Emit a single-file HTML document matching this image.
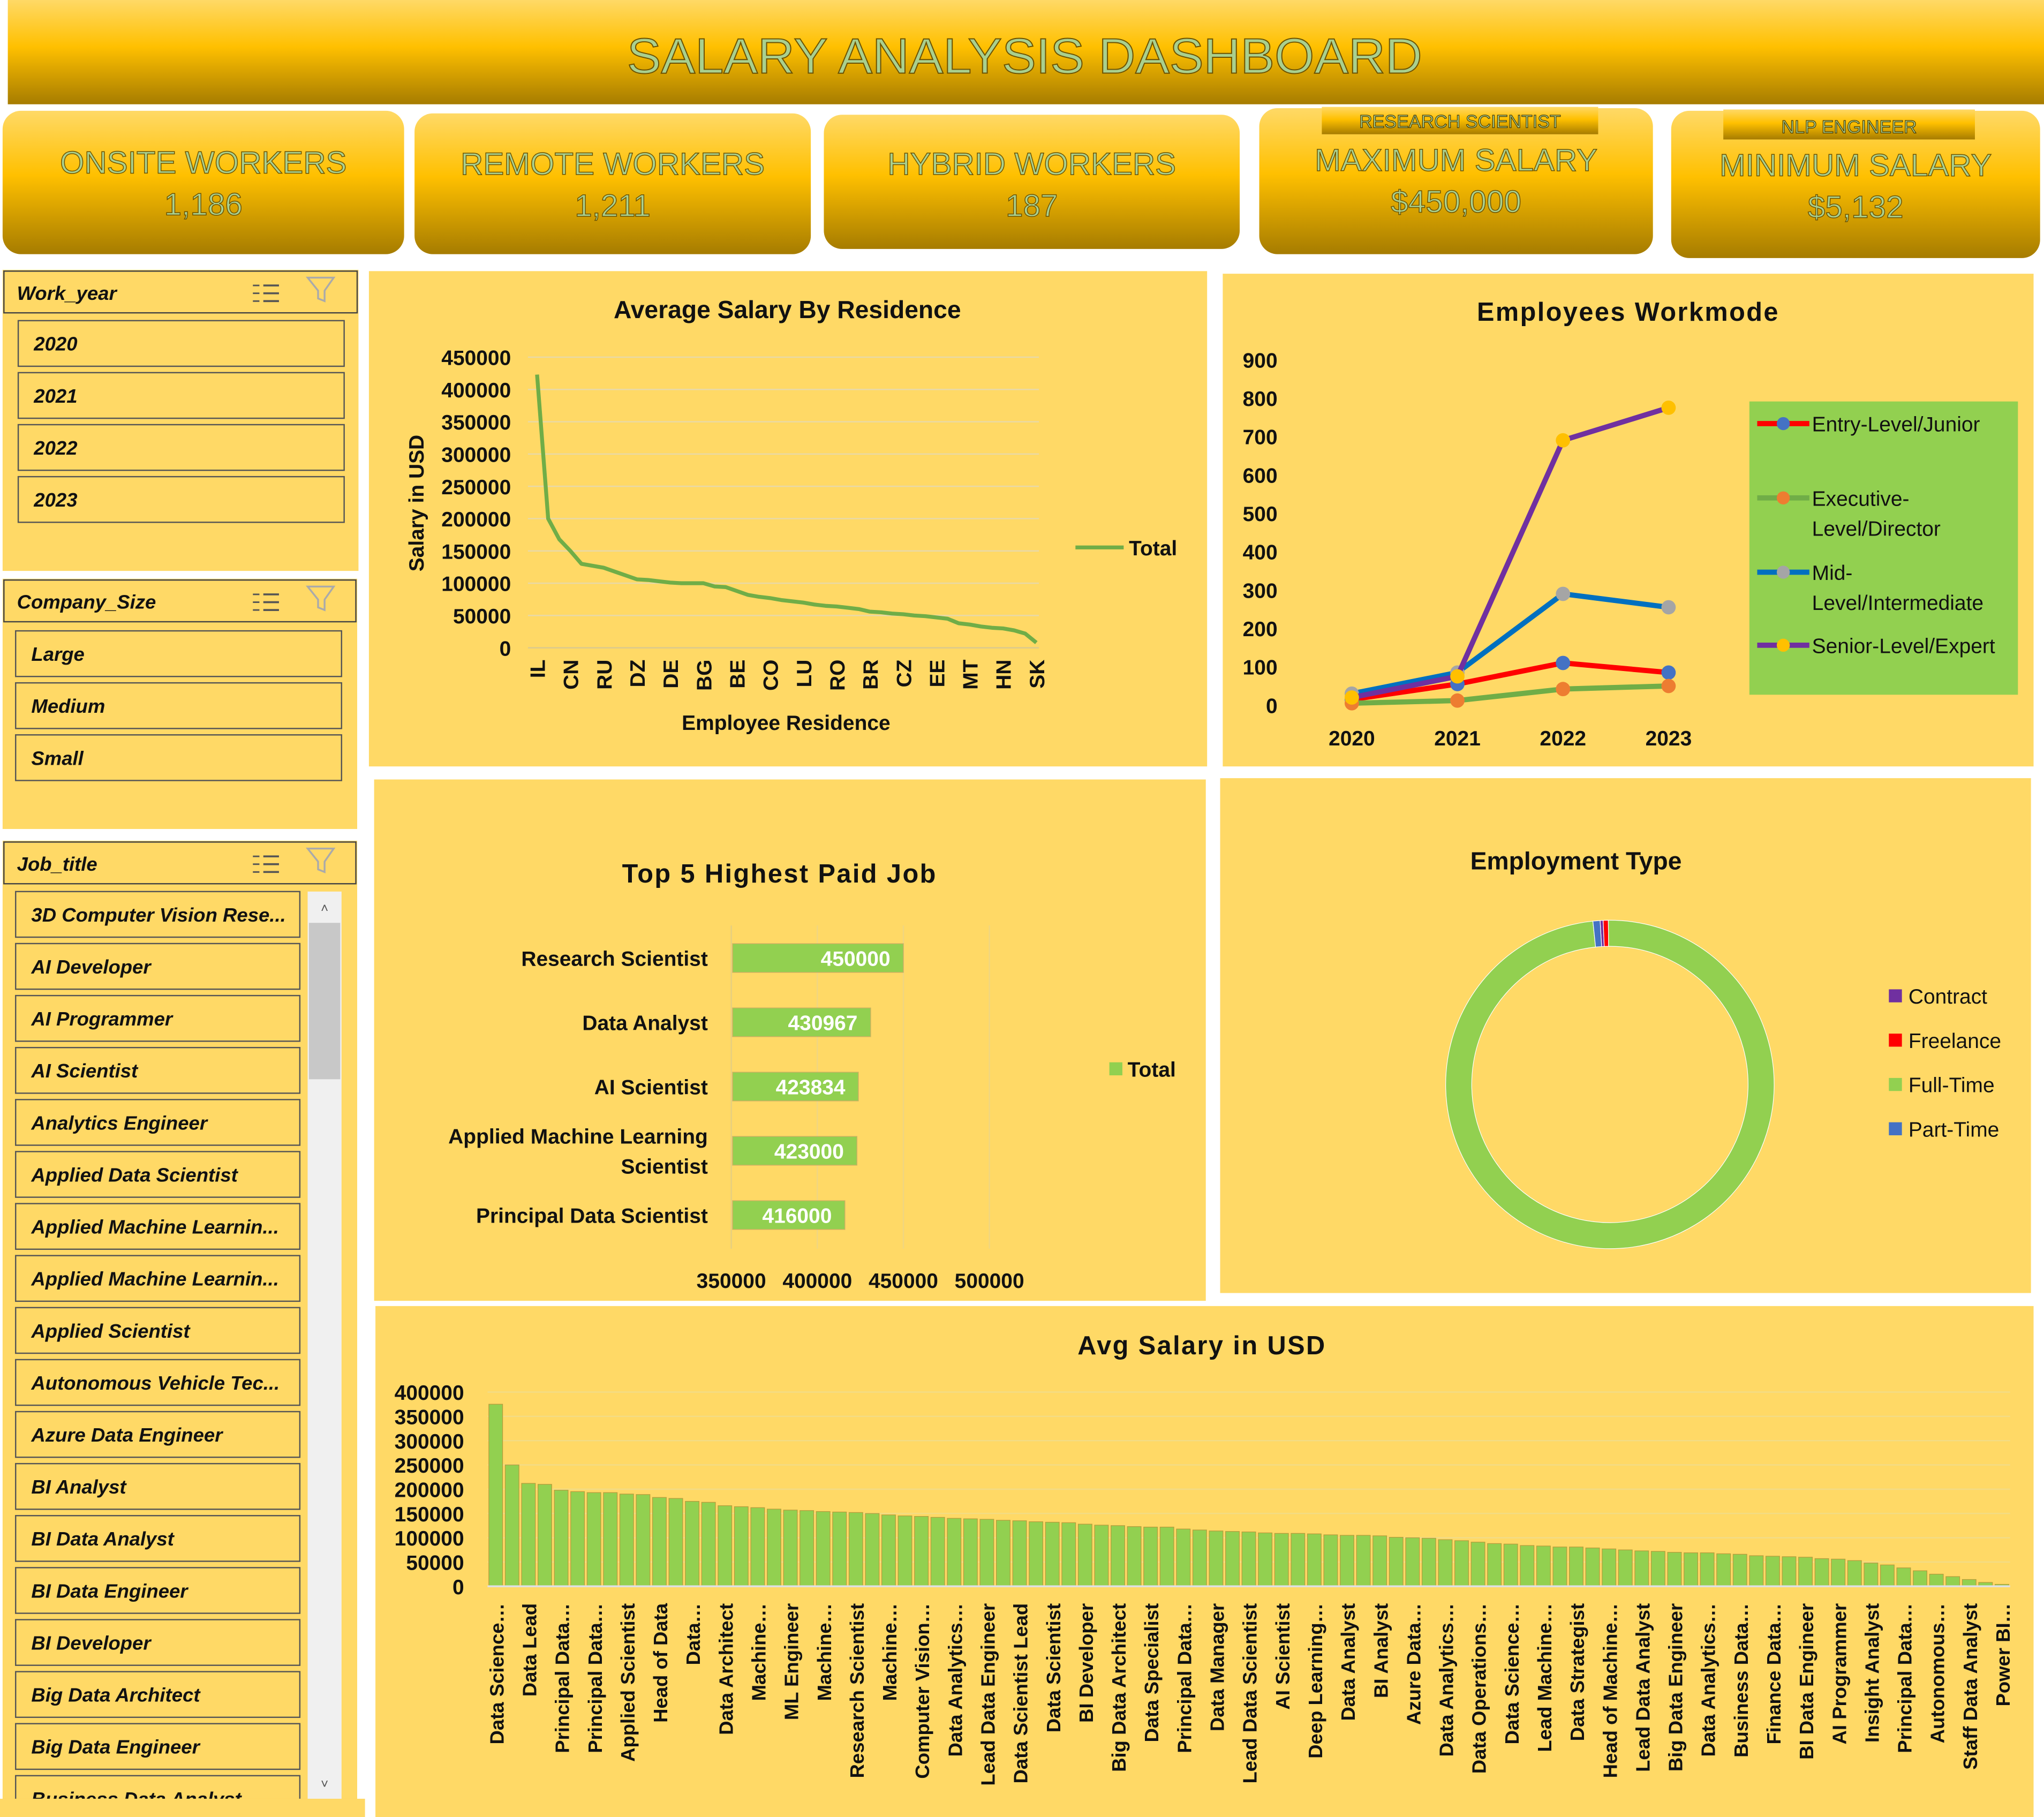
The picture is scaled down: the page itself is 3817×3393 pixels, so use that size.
<!DOCTYPE html>
<html><head><meta charset="utf-8"><style>
html,body{margin:0;padding:0;background:#fff;}
svg{display:block;}
text{font-family:"Liberation Sans",sans-serif;}
</style></head><body>
<svg id="root" width="3817" height="3393" viewBox="0 0 1568 1394" preserveAspectRatio="none" xmlns="http://www.w3.org/2000/svg">
<defs>
<linearGradient id="gold" x1="0" y1="0" x2="0" y2="1">
<stop offset="0" stop-color="#FFD966"/><stop offset="0.45" stop-color="#FFC000"/><stop offset="1" stop-color="#A67C00"/>
</linearGradient>
</defs>
<rect width="1568" height="1394" fill="#fff"/>
<g>
<rect x="6" y="0" width="1562" height="80" fill="url(#gold)"/>
<text x="786" y="56" text-anchor="middle" font-size="38" textLength="610" lengthAdjust="spacingAndGlyphs" fill="#A9D08E" stroke="#6b5200" stroke-width="0.8">SALARY ANALYSIS DASHBOARD</text>
</g>
<g id="kpis"></g>
<g id="slicers"></g>
<g id="charts"></g>
</svg>
<script>
const NS="http://www.w3.org/2000/svg";
function el(tag,attrs,parent,txt){const e=document.createElementNS(NS,tag);for(const k in attrs)e.setAttribute(k,attrs[k]);if(txt!==undefined)e.textContent=txt;parent.appendChild(e);return e;}
const root=document.getElementById('root');

/* ---------- KPI cards ---------- */
const kpiTitles=["ONSITE WORKERS","REMOTE WORKERS","HYBRID WORKERS","MAXIMUM SALARY","MINIMUM SALARY"];
const kpiValues=["1,186","1,211","187","$450,000","$5,132"];
const kpiBoxes=[[2,85,308,110,125,157],[318,87,304,108,126,158],[632,88,319,103,126,158],[966,83,302,112,123,155],[1282,85,283,113,127,159]];
const kg=document.getElementById('kpis');
kpiBoxes.forEach((b,i)=>{
  const g=el('g',{},kg);
  
  
  el('rect',{x:b[0],y:b[1],width:b[2],height:b[3],rx:14,fill:'url(#gold)'},g);
  el('text',{x:b[0]+b[2]/2,y:b[4]+8,'text-anchor':'middle','font-size':24,fill:'#A9D08E',stroke:'#6b5200','stroke-width':0.6},g,kpiTitles[i]);
  el('text',{x:b[0]+b[2]/2,y:b[5]+8,'text-anchor':'middle','font-size':24,fill:'#A9D08E',stroke:'#6b5200','stroke-width':0.6},g,kpiValues[i]);
});
[[1014,82,212,21,"RESEARCH SCIENTIST"],[1322,84,193,23,"NLP ENGINEER"]].forEach((t,i)=>{
  const g=el('g',{},kg);
  
  
  el('rect',{x:t[0],y:t[1],width:t[2],height:t[3],fill:'url(#gold)'},g);
  el('text',{x:t[0]+t[2]/2,y:t[1]+t[3]-5,'text-anchor':'middle','font-size':14,fill:'#A9D08E',stroke:'#4a3a00','stroke-width':0.5},g,t[4]);
});

/* ---------- Slicers ---------- */
const sg=document.getElementById('slicers');
function slicerIcons(g,x,y){
  for(let k=0;k<3;k++){el('line',{x1:x,y1:y+k*6,x2:x+5,y2:y+k*6,stroke:'#555','stroke-width':1.2},g);el('line',{x1:x+8,y1:y+k*6,x2:x+20,y2:y+k*6,stroke:'#555','stroke-width':1.5},g);}
  el('path',{d:`M${x+42} ${y-6} L${x+62} ${y-6} L${x+55} ${y+4} L${x+55} ${y+12} L${x+50} ${y+10} L${x+50} ${y+4} Z`,fill:'none',stroke:'#aaa','stroke-width':1.4},g);
}
function slicer(name,title,box,hdrY,items,ix,iw,iy){
  const g=el('g',{},sg);
  
  
  el('rect',{x:box[0],y:box[1],width:box[2],height:box[3],fill:'#FFD966'},g);
  el('rect',{x:box[0]+1,y:box[1]+1,width:box[2]-2,height:32,fill:'#FFD966',stroke:'#444','stroke-width':1},g);
  el('text',{x:box[0]+11,y:hdrY,'font-size':15,'font-weight':'bold','font-style':'italic',fill:'#111'},g,title);
  slicerIcons(g,box[0]+192,hdrY-11);
  items.forEach((it,i)=>{
    const r=el('rect',{x:ix,y:iy+i*39.9,width:iw,height:35,fill:'#FFD966',stroke:'#555','stroke-width':1},g);
    
    
    el('text',{x:ix+12,y:iy+i*39.9+23,'font-size':15,'font-weight':'bold','font-style':'italic',fill:'#111'},g,it);
  });
  return g;
}
slicer('work-year-slicer','Work_year',[2,207,273,231],230,["2020","2021","2022","2023"],14,250,246);
slicer('company-size-slicer','Company_Size',[2,444,272,192],467,["Large","Medium","Small"],12,250,484);
const jobItems=["3D Computer Vision Rese...","AI Developer","AI Programmer","AI Scientist","Analytics Engineer","Applied Data Scientist","Applied Machine Learnin...","Applied Machine Learnin...","Applied Scientist","Autonomous Vehicle Tec...","Azure Data Engineer","BI Analyst","BI Data Analyst","BI Data Engineer","BI Developer","Big Data Architect","Big Data Engineer","Business Data Analyst"];
const jg=slicer('job-title-slicer','Job_title',[2,645,272,749],668,jobItems,12,218,684);
el('rect',{x:0,y:1380,width:280,height:14,fill:'#FFD966'},jg);
el('rect',{x:2,y:1380,width:272,height:14,fill:'#FFD966'},jg);
const sb=el('rect',{x:236,y:684,width:26,height:696,fill:'#f0f0f0'},jg);


const th=el('rect',{x:237,y:708,width:24,height:120,fill:'#c8c8c8'},jg);


el('text',{x:249,y:700,'text-anchor':'middle','font-size':10,fill:'#555'},jg,'˄');
el('text',{x:249,y:1372,'text-anchor':'middle','font-size':10,fill:'#555'},jg,'˅');

/* ---------- Chart data ---------- */
const resValues=[423000,200000,168000,150000,130000,127000,124000,118000,112000,106000,105000,103000,101000,100000,100000,100000,95000,94000,88000,82000,79000,77000,74000,72000,70000,67000,65000,64000,62000,60000,56000,55000,53000,52000,50000,49000,47000,45000,38000,36000,33000,31000,30000,27000,22000,8000];
const resLabels=["IL","CN","RU","DZ","DE","BG","BE","CO","LU","RO","BR","CZ","EE","MT","HN","SK"];
const resTicks=[0,50000,100000,150000,200000,250000,300000,350000,400000,450000];

const wmYears=["2020","2021","2022","2023"];
const wmEntry=[15,55,110,85];
const wmExec=[5,12,42,50];
const wmMid=[30,85,290,255];
const wmSenior=[20,75,690,775];
const wmTicks=[0,100,200,300,400,500,600,700,800,900];

const topJobs=["Research Scientist","Data Analyst","AI Scientist","Applied Machine Learning|Scientist","Principal Data Scientist"];
const topValues=[450000,430967,423834,423000,416000];
const topTicks=[350000,400000,450000,500000];

const empTypes=["Contract","Freelance","Full-Time","Part-Time"];
const empValues=[3,5,985,7];
const empColors=["#7030A0","#FF0000","#92D050","#4472C4"];

const avgJobLabels=["Data Science…","Data Lead","Principal Data…","Principal Data…","Applied Scientist","Head of Data","Data…","Data Architect","Machine…","ML Engineer","Machine…","Research Scientist","Machine…","Computer Vision…","Data Analytics…","Lead Data Engineer","Data Scientist Lead","Data Scientist","BI Developer","Big Data Architect","Data Specialist","Principal Data…","Data Manager","Lead Data Scientist","AI Scientist","Deep Learning…","Data Analyst","BI Analyst","Azure Data…","Data Analytics…","Data Operations…","Data Science…","Lead Machine…","Data Strategist","Head of Machine…","Lead Data Analyst","Big Data Engineer","Data Analytics…","Business Data…","Finance Data…","BI Data Engineer","AI Programmer","Insight Analyst","Principal Data…","Autonomous…","Staff Data Analyst","Power BI…"];
const avgValues=[375000,250000,212000,210000,198000,195000,193000,193000,190000,189000,183000,181000,175000,173000,166000,164000,162000,159000,157000,156000,154000,153000,152000,150000,147000,145000,144000,142000,140000,139000,138000,136000,135000,133000,132000,131000,128000,126000,125000,123000,122000,122000,118000,116000,114000,113000,112000,110000,109000,109000,108000,106000,105000,105000,104000,101000,100000,99000,96000,94000,91000,88000,87000,84000,83000,81000,81000,79000,77000,75000,73000,72000,70000,69000,69000,67000,66000,63000,62000,61000,60000,57000,56000,53000,48000,44000,38000,32000,25000,20000,14000,8000,4000];
const avgTicks=[0,50000,100000,150000,200000,250000,300000,350000,400000];

const cg=document.getElementById('charts');
function panel(name,x,y,w,h){const g=el('g',{},cg);el('rect',{x,y,width:w,height:h,fill:'#FFD966'},g);return g;}
function T(g,x,y,s,size,opt){const a=Object.assign({x,y,'font-size':size,'font-weight':'bold',fill:'#111'},opt||{});return el('text',a,g,s);}

/* ---- Average salary by residence ---- */
{
const g=panel('avg-salary-by-residence-chart',283,208,643,380);
T(g,604,244,'Average Salary By Residence',19,{'text-anchor':'middle'});
const x0=412,x1=795,yB=497,yT=274,vmax=450000;
const sx=i=>x0+(x1-x0)*i/(resValues.length-1), sy=v=>yB-(yB-yT)*v/vmax;
resTicks.forEach(t=>{if(t>0)el('line',{x1:405,x2:797,y1:sy(t),y2:sy(t),stroke:'#e8d9a8','stroke-width':1},g);
  const l=T(g,392,sy(t)+6,String(t),16,{'text-anchor':'end'});});
el('line',{x1:405,x2:797,y1:yB,y2:yB,stroke:'#d9c98f','stroke-width':1},g);
const p=el('polyline',{points:resValues.map((v,i)=>sx(i)+','+sy(v)).join(' '),fill:'none',stroke:'#70AD47','stroke-width':3,'stroke-linejoin':'round'},g);


resLabels.forEach((s,k)=>{const i=k*3;const t=T(g,0,0,s,16,{transform:`translate(${sx(i)+6},${506}) rotate(-90)`,'text-anchor':'end'});});
T(g,603,560,'Employee Residence',16,{'text-anchor':'middle'});
T(g,0,0,'Salary in USD',16,{transform:'translate(325,386) rotate(-90)','text-anchor':'middle'});
el('line',{x1:825,x2:862,y1:420,y2:420,stroke:'#70AD47','stroke-width':3},g);
T(g,866,426,'Total',16);
}

/* ---- Employees workmode ---- */
{
const g=panel('employees-workmode-chart',938,210,622,378);
T(g,1249,246,'Employees Workmode',20,{'text-anchor':'middle','letter-spacing':'1'});
const xs=i=>1037+81*i, ys=v=>541-(541-276)*v/900;
wmTicks.forEach(t=>{const l=T(g,980,ys(t)+6,String(t),16,{'text-anchor':'end'});});
wmYears.forEach((y,i)=>{const l=T(g,xs(i),572,y,16,{'text-anchor':'middle'});});
const series=[["entry-level",wmEntry,"#FF0000","#4472C4"],["executive-level",wmExec,"#70AD47","#ED7D31"],["mid-level",wmMid,"#0070C0","#A5A5A5"],["senior-level",wmSenior,"#7030A0","#FFC000"]];
series.forEach(s=>{
  const sg2=el('g',{},g);
  
  
  el('polyline',{points:s[1].map((v,i)=>xs(i)+','+ys(v)).join(' '),fill:'none',stroke:s[2],'stroke-width':4},sg2);
  s[1].forEach((v,i)=>{const c=el('circle',{cx:xs(i),cy:ys(v),r:5.5,fill:s[3]},sg2);});
});
const lg=el('g',{},g);


el('rect',{x:1342,y:308,width:206,height:225,fill:'#92D050'},lg);
const leg=[[325,["Entry-Level/Junior"]],[382,["Executive-","Level/Director"]],[439,["Mid-","Level/Intermediate"]],[495,["Senior-Level/Expert"]]];
leg.forEach((L,i)=>{const s=series[i];el('line',{x1:1348,x2:1388,y1:L[0],y2:L[0],stroke:s[2],'stroke-width':4},lg);el('circle',{cx:1368,cy:L[0],r:5,fill:s[3]},lg);
  L[1].forEach((t,k)=>T(lg,1390,L[0]+6+k*23,t,16,{'font-weight':'normal'}));});
}

/* ---- Top 5 highest paid ---- */
{
const g=panel('top-5-paid-jobs-chart',287,598,638,400);
T(g,598,677,'Top 5 Highest Paid Job',20,{'text-anchor':'middle','letter-spacing':'1'});
const sx=v=>561+(759-561)*(v-350000)/150000;
topTicks.forEach(t=>{if(t>350000)el('line',{x1:sx(t),x2:sx(t),y1:710,y2:958,stroke:'#f0d680','stroke-width':1},g);
  const l=T(g,sx(t),988,String(t),16,{'text-anchor':'middle'});});
el('line',{x1:561,x2:561,y1:710,y2:958,stroke:'#e6cf80','stroke-width':1},g);
topValues.forEach((v,i)=>{
  const cy=735+49.3*i;
  const r=el('rect',{x:562,y:cy-11,width:sx(v)-562,height:22,fill:'#92D050',stroke:'#c9b060','stroke-width':0.6},g);
  
  
  T(g,sx(v)-10,cy+6,String(v),16,{'text-anchor':'end',fill:'#fff'});
  const parts=topJobs[i].split('|');
  parts.forEach((p,k)=>T(g,543,cy+6+(k-(parts.length-1)/2)*23,p,16,{'text-anchor':'end'}));
});
el('rect',{x:851,y:815,width:10,height:10,fill:'#92D050'},g);
T(g,865,826,'Total',16);
}

/* ---- Employment type donut ---- */
{
const g=panel('employment-type-chart',936,597,622,395);
T(g,1209,667,'Employment Type',19,{'text-anchor':'middle'});
const cx=1235,cy=832,R=126,r=106;const tot=empValues.reduce((a,b)=>a+b,0);let a0=-Math.PI/2-0.06;
empValues.forEach((v,i)=>{
  const a1=a0+2*Math.PI*v/tot;const big=(a1-a0)>Math.PI?1:0;
  const P=(rad,a)=>[cx+rad*Math.cos(a),cy+rad*Math.sin(a)];
  const [x1,y1]=P(R,a0),[x2,y2]=P(R,a1),[x3,y3]=P(r,a1),[x4,y4]=P(r,a0);
  const p=el('path',{d:`M${x1} ${y1} A${R} ${R} 0 ${big} 1 ${x2} ${y2} L${x3} ${y3} A${r} ${r} 0 ${big} 0 ${x4} ${y4} Z`,fill:empColors[i],stroke:'#fff','stroke-width':0.5},g);
  
  
  a0=a1;
});
empTypes.forEach((t,i)=>{el('rect',{x:1449,y:759+34*i,width:10,height:10,fill:empColors[i]},g);
  const l=T(g,1464,770+34*i,t,16,{'font-weight':'normal'});});
}

/* ---- Avg salary in USD bars ---- */
{
const g=panel('avg-salary-by-job-chart',288,1002,1272,392);
T(g,922,1039,'Avg Salary in USD',20,{'text-anchor':'middle','letter-spacing':'1'});
const yB=1217,yT=1068,vmax=400000,x0=374,x1=1542;
const ys=v=>yB-(yB-yT)*v/vmax;const step=(x1-x0)/avgValues.length;
avgTicks.forEach(t=>{if(t>0)el('line',{x1:x0,x2:x1,y1:ys(t),y2:ys(t),stroke:'#f3dc85','stroke-width':1},g);
  const l=T(g,356,ys(t)+6,String(t),16,{'text-anchor':'end'});});
avgValues.forEach((v,i)=>{
  const x=x0+step*i;
  const b=el('rect',{x:x+1,y:ys(v),width:step-2,height:yB-ys(v),fill:'#92D050',stroke:'#b79a3a','stroke-width':0.5},g);
  
  
});
el('line',{x1:x0,x2:x1,y1:yB,y2:yB,stroke:'#e0e0e0','stroke-width':1.5},g);
avgJobLabels.forEach((s,k)=>{const i=k*2;const x=x0+step*i+step/2;
  const t=T(g,0,0,s,15,{transform:`translate(${x+6},1230) rotate(-90)`,'text-anchor':'end'});});
}
</script>
</body></html>
